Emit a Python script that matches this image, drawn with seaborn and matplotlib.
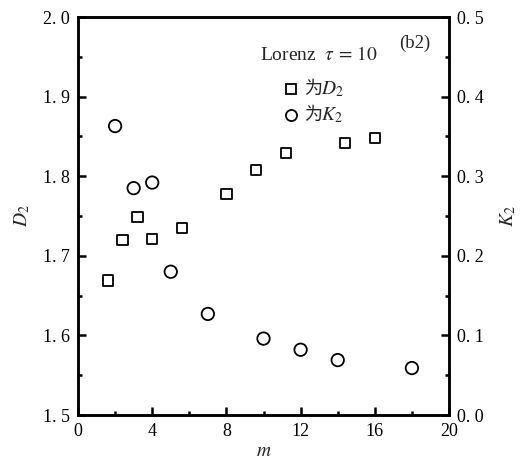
import numpy as np
import pandas as pd
import matplotlib
matplotlib.use("Agg")
import matplotlib.pyplot as plt
from matplotlib.ticker import MultipleLocator, FuncFormatter
import seaborn as sns

# Correlation dimension D2 versus embedding dimension m
m_d2 = [1.6, 2.4, 3.2, 4.0, 5.6, 8.0, 9.6, 11.2, 14.4, 16.0]
d2 = [1.669, 1.720, 1.749, 1.721, 1.735, 1.778, 1.808, 1.829, 1.842, 1.848]

# Kolmogorov entropy K2 versus embedding dimension m
m_k2 = [2, 3, 4, 5, 7, 10, 12, 14, 18]
k2 = [0.363, 0.285, 0.292, 0.180, 0.127, 0.096, 0.082, 0.069, 0.059]

df_d2 = pd.DataFrame({"m": m_d2, "D2": d2})
df_k2 = pd.DataFrame({"m": m_k2, "K2": k2})

sns.set_theme(style="white")
plt.rcParams["font.family"] = ["Liberation Serif", "Noto Sans CJK SC", "DejaVu Sans"]
plt.rcParams["mathtext.fontset"] = "stix"

fig = plt.figure(figsize=(5.31, 4.65), dpi=100)
ax = fig.add_axes([0.1469, 0.1075, 0.6987, 0.8559])
ax2 = ax.twinx()

sns.scatterplot(data=df_d2, x="m", y="D2", ax=ax, marker="s", s=55,
                facecolor="none", edgecolor="black", linewidth=1.3, legend=False)
sns.scatterplot(data=df_k2, x="m", y="K2", ax=ax2, marker="o", s=80,
                facecolor="none", edgecolor="black", linewidth=1.3, legend=False)

ax.set_xlim(0, 20)
ax.set_ylim(1.5, 2.0)
ax2.set_ylim(0.0, 0.5)

def spaced(v, pos):
    s = f"{v:.1f}"
    return s.replace(".", ". ")

ax.xaxis.set_major_locator(MultipleLocator(4))
ax.xaxis.set_minor_locator(MultipleLocator(2))
ax.yaxis.set_major_locator(MultipleLocator(0.1))
ax.yaxis.set_minor_locator(MultipleLocator(0.05))
ax.yaxis.set_major_formatter(FuncFormatter(spaced))
ax2.yaxis.set_major_locator(MultipleLocator(0.1))
ax2.yaxis.set_minor_locator(MultipleLocator(0.05))
ax2.yaxis.set_major_formatter(FuncFormatter(spaced))

for a in (ax, ax2):
    for sp in a.spines.values():
        sp.set_linewidth(1.8)
        sp.set_color("black")

ax.tick_params(axis="x", which="both", direction="in", bottom=True, top=False,
               labelsize=13, pad=6, colors="black")
ax.tick_params(axis="x", which="major", length=6, width=1.8)
ax.tick_params(axis="x", which="minor", length=3, width=1.8)
ax.tick_params(axis="y", which="both", direction="in", left=True, right=False,
               labelsize=13, pad=6, colors="black")
ax.tick_params(axis="y", which="major", length=6, width=1.8)
ax.tick_params(axis="y", which="minor", length=3, width=1.8)
ax2.tick_params(axis="y", which="both", direction="in", right=True, left=False,
                labelsize=13, pad=6, colors="black")
ax2.tick_params(axis="y", which="major", length=6, width=1.8)
ax2.tick_params(axis="y", which="minor", length=3, width=1.8)

ax.set_xlabel("$m$", fontsize=14, labelpad=2)
ax.set_ylabel("$D_2$", fontsize=14, labelpad=8)
ax2.set_ylabel("$K_2$", fontsize=14, labelpad=10)

ax.text(0.49, 0.905, r"Lorenz  $\tau\,=\,10$", transform=ax.transAxes, fontsize=14,
        ha="left", va="center")
ax.text(0.865, 0.935, "(b2)", transform=ax.transAxes, fontsize=13.5,
        ha="left", va="center")

# Marker key: symbol, the character 为, then the quantity name
ax.plot([0.575], [0.82], transform=ax.transAxes, marker="s", ms=7,
        mfc="none", mec="black", mew=1.3, ls="none")
ax.text(0.608, 0.82, "为", transform=ax.transAxes, fontsize=13,
        family="Noto Sans CJK SC", ha="left", va="center")
ax.text(0.655, 0.818, "$D_2$", transform=ax.transAxes, fontsize=14,
        ha="left", va="center")
ax.plot([0.575], [0.755], transform=ax.transAxes, marker="o", ms=8,
        mfc="none", mec="black", mew=1.3, ls="none")
ax.text(0.608, 0.755, "为", transform=ax.transAxes, fontsize=13,
        family="Noto Sans CJK SC", ha="left", va="center")
ax.text(0.655, 0.753, "$K_2$", transform=ax.transAxes, fontsize=14,
        ha="left", va="center")

fig.savefig("out.png", dpi=100)
